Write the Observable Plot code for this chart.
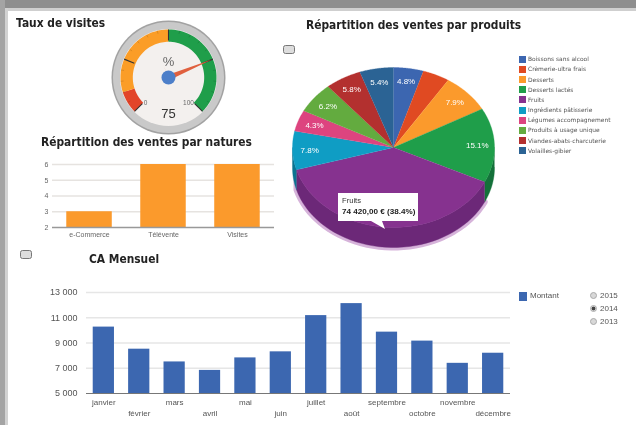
<!DOCTYPE html>
<html><head><meta charset="utf-8">
<script src="https://cdn.jsdelivr.net/npm/d3@7"></script>
<script src="https://cdn.jsdelivr.net/npm/@observablehq/plot@0.6"></script>
<style>
html,body{margin:0;padding:0;width:636px;height:425px;overflow:hidden;background:#fff}
#root{position:absolute;left:0;top:0;width:636px;height:425px;overflow:hidden;background:#fff;filter:blur(.6px)}
#root>*{position:absolute}
.title{font:bold 11.6px "DejaVu Sans",sans-serif;color:#222;white-space:nowrap;line-height:14px;transform:scaleX(.92);transform-origin:left center}
.leg{font:5.95px "DejaVu Sans",sans-serif;color:#555;white-space:nowrap;line-height:8px}
.sw{width:7px;height:7px}
.btn{width:10px;height:7px;border:1.5px solid #777;border-radius:2.5px;background:#ddd}
.radio{width:7px;height:7px;border-radius:50%;background:#d8d8d8;border:.5px solid #aaa;box-sizing:border-box}
.yr{font:8px "Liberation Sans",sans-serif;color:#555;line-height:10px}
svg{display:block;background:transparent!important}
</style></head><body><div id="root"></div>
<script>
// ---------- data ----------
const gaugeValue = 75;
const gaugeBands = [[0,10,"#e2452a"],[10,50,"#fb9d27"],[50,100,"#1f9e4a"]];
const gaugeMajor = [0,25,50,75,100];
const gaugeMinor = [5,10,15,20,30,35,40,45,55,60,65,70,80,85,90,95];

const natures = ["e-Commerce","Télévente","Visites"];
const natureValues = [3,6,6];

const products = ["Boissons sans alcool","Crèmerie-ultra frais","Desserts","Desserts lactés","Fruits","Ingrédients pâtisserie","Légumes accompagnement","Produits à usage unique","Viandes-abats-charcuterie","Volailles-gibier"];
const shares = [4.8,4.3,7.9,15.1,38.4,7.8,4.3,6.2,5.8,5.4];
const shareLabels = ["4.8%","","7.9%","15.1%","","7.8%","4.3%","6.2%","5.8%","5.4%"];
const productColors = ["#3c66b0","#e04a22","#fb9a2c","#1f9e4a","#86328f","#0f9dc4","#dd447f","#63ab3f","#b3302f","#2b6394"];
const productSides = ["#2b4a80","#a33518","#b86f1f","#14713a","#6c2878","#0b7390","#a1315c","#47802d","#822221","#1e476b"];

const months = ["janvier","février","mars","avril","mai","juin","juillet","août","septembre","octobre","novembre","décembre"];
const monthly = [10260,8510,7500,6830,7820,8300,11170,12120,9860,9150,7390,8190];
const yearOptions = ["2015","2014","2013"];

// ---------- layout helpers ----------
const root = document.getElementById("root");
function box(css, cls, text){
  const d = document.createElement("div");
  if (cls) d.className = cls;
  d.style.cssText = css;
  if (text) d.textContent = text;
  root.appendChild(d);
  return d;
}
function place(svg, left, top){ svg.style.left = left+"px"; svg.style.top = top+"px"; root.appendChild(svg); }
const rad = d => d*Math.PI/180;

// page frame
box("left:0;top:0;width:636px;height:8px;background:#8e8e8e");
box("left:0;top:8px;width:636px;height:3px;background:#cfcfcf");
box("left:0;top:0;width:5px;height:425px;background:#a4a4a4");
box("left:5px;top:8px;width:3px;height:417px;background:#d2d2d2");

// titles and toggles
box("left:16px;top:16px","title","Taux de visites");
box("left:41px;top:135px","title","Répartition des ventes par natures");
box("left:306px;top:18px","title","Répartition des ventes par produits");
box("left:89px;top:252px","title","CA Mensuel");
box("left:283px;top:45px","btn");
box("left:20px;top:250px","btn");

// ---------- gauge ----------
const ang = v => -135 + v*2.7;
const gx = (v,r) => r*Math.sin(rad(ang(v)));
const gy = (v,r) => r*Math.cos(rad(ang(v)));
const bandPts = gaugeBands.flatMap(([a,b,c],i)=>{
  const out = d3.range(0,41).map(k=>a+(b-a)*k/40);
  return [...out.map(v=>({x:gx(v,48),y:gy(v,48),c,i})), ...out.reverse().map(v=>({x:gx(v,35.7),y:gy(v,35.7),c,i}))];
});
const needle = [
  {x:gx(gaugeValue,47),y:gy(gaugeValue,47)},
  {x:gx(gaugeValue+33.3,2.8),y:gy(gaugeValue+33.3,2.8)},
  {x:gx(gaugeValue+100,14.5),y:gy(gaugeValue+100,14.5)},
  {x:gx(gaugeValue-33.3,2.8),y:gy(gaugeValue-33.3,2.8)}
];
place(Plot.plot({
  width:120,height:120,margin:0,
  x:{domain:[-60,60],axis:null},y:{domain:[-60,60],axis:null},
  style:{background:"transparent"},
  marks:[
    Plot.dot([0],{x:0,y:0,r:57,fill:"#a2a2a2"}),
    Plot.dot([0],{x:0,y:0,r:55.5,fill:"#c9c9c9"}),
    Plot.dot([0],{x:0,y:0,r:48.5,fill:"#f3f0ee"}),
    Plot.line(bandPts,{x:"x",y:"y",z:"i",fill:"c",stroke:"none"}),
    Plot.link(gaugeMinor,{x1:v=>gx(v,45),y1:v=>gy(v,45),x2:v=>gx(v,48),y2:v=>gy(v,48),stroke:"#000",strokeOpacity:.18,strokeWidth:.7}),
    Plot.link(gaugeMajor,{x1:v=>gx(v,37),y1:v=>gy(v,37),x2:v=>gx(v,48),y2:v=>gy(v,48),stroke:"#333",strokeWidth:1.1}),
    Plot.line(needle,{x:"x",y:"y",fill:"#e0603e",stroke:"none"}),
    Plot.dot([0],{x:0,y:0,r:7,fill:"#4c7fc9"}),
    Plot.text(["%"],{x:0,y:16,fontSize:13,fill:"#666",fontFamily:"Liberation Sans"}),
    Plot.text([gaugeValue],{x:0,y:-36,text:d=>d,fontSize:13,fill:"#333",fontFamily:"Liberation Sans"}),
    Plot.text(["0"],{x:-23,y:-25,fontSize:6.5,fill:"#666",fontFamily:"Liberation Sans"}),
    Plot.text(["100"],{x:20,y:-25,fontSize:6.5,fill:"#666",fontFamily:"Liberation Sans"})
  ]
}),108,17);

// ---------- natures bars ----------
const natTable = natures.map((n,i)=>({n,v:natureValues[i]}));
place(Plot.plot({
  width:290,height:90,marginLeft:52,marginRight:16,marginTop:9,marginBottom:18,
  style:{background:"transparent",fontFamily:"Liberation Sans",fontSize:"7px",color:"#666"},
  x:{domain:natures,paddingInner:.385,paddingOuter:.193,round:false,label:null},
  y:{domain:[2,6],label:null},
  marks:[
    Plot.ruleY([3,4,5,6],{stroke:"#e6e3e0",strokeWidth:1.3}),
    Plot.barY(natTable,{x:"n",y1:2,y2:"v",fill:"#fb9a2c"}),
    Plot.ruleY([2],{stroke:"#999",strokeWidth:1.5}),
    Plot.axisY({ticks:[2,3,4,5,6],tickSize:0,tickPadding:4,tickFormat:d3.format("d"),label:null}),
    Plot.axisX({tickSize:0,tickPadding:5,label:null})
  ]
}),0,155);

// ---------- pie ----------
const pieArcs = [];
{ let s = 0; shares.forEach((p,i)=>{ pieArcs.push({i,a0:s*3.6,a1:(s+p)*3.6}); s += p; }); }
const px = a => Math.sin(rad(a));
const py = a => Math.cos(rad(a));
const depth = 0.25;
const steps = (a,b,n=40) => d3.range(0,n+1).map(k=>a+(b-a)*k/n);
const topPts = pieArcs.flatMap(({i,a0,a1})=>[{x:0,y:0,i},...steps(a0,a1).map(a=>({x:px(a),y:py(a),i}))]);
const sidePts = pieArcs.filter(d=>d.a1>90&&d.a0<270).flatMap(({i,a0,a1})=>{
  const s = steps(Math.max(a0,90),Math.min(a1,270));
  return [...s.map(a=>({x:px(a),y:py(a),i})),...s.reverse().map(a=>({x:px(a),y:py(a)-depth,i}))];
});
const pieLabels = pieArcs.filter(d=>shareLabels[d.i]).map(d=>{
  const m=(d.a0+d.a1)/2; return {x:.83*px(m),y:.83*py(m),t:shareLabels[d.i]};
});
place(Plot.plot({
  width:220,height:200,margin:0,
  x:{domain:[-1.089,1.089],axis:null},y:{domain:[-1.4125,1.0875],axis:null},
  style:{background:"transparent"},
  marks:[
    Plot.line(sidePts.filter(d=>d.i===4),{x:"x",y:"y",z:"i",fill:"#d6b3da",stroke:"#d6b3da",strokeWidth:6}),
    Plot.line(sidePts,{x:"x",y:"y",z:"i",fill:d=>productSides[d.i],stroke:d=>productSides[d.i],strokeWidth:.4}),
    Plot.line(topPts,{x:"x",y:"y",z:"i",fill:d=>productColors[d.i],stroke:d=>productColors[d.i],strokeWidth:.3}),
    Plot.text(pieLabels,{x:"x",y:"y",text:"t",fill:"#fff",fontSize:8,fontFamily:"Liberation Sans"})
  ]
}),283,60);

// pie tooltip
box("left:338px;top:193px;width:80px;height:36px;background:#fff;clip-path:polygon(0 0,100% 0,100% 28px,44px 28px,47px 36px,33px 28px,0 28px)");
box("left:342px;top:196px;font:7.6px 'Liberation Sans',sans-serif;color:#333;line-height:10px","","Fruits");
box("left:342px;top:206.5px;font:bold 8.1px 'Liberation Sans',sans-serif;color:#222;line-height:10px;white-space:nowrap","","74 420,00 € (38.4%)");

// pie legend
products.forEach((p,i)=>{
  const y = 59.3 + i*10.15;
  box(`left:519px;top:${y-3.5}px;background:${productColors[i]}`,"sw");
  box(`left:528px;top:${y-4}px`,"leg",p);
});

// ---------- CA mensuel ----------
const caTable = months.map((m,i)=>({m,v:monthly[i]}));
const spaced = v => d3.format(",")(v).replace(",", " ");
place(Plot.plot({
  width:520,height:145,marginLeft:86,marginRight:10,marginTop:12,marginBottom:32,
  style:{background:"transparent",fontFamily:"Liberation Sans",fontSize:"8px",color:"#555"},
  x:{domain:months,paddingInner:.4,paddingOuter:.19,round:false,label:null},
  y:{domain:[5000,13000],label:null},
  marks:[
    Plot.ruleY([7000,9000,11000,13000],{stroke:"#e6e6e6",strokeWidth:1.5}),
    Plot.barY(caTable,{x:"m",y1:5000,y2:"v",fill:"#3c67b0"}),
    Plot.ruleY([5000],{stroke:"#777",strokeWidth:1.2}),
    Plot.axisY({ticks:[5000,7000,9000,11000,13000],tickSize:0,tickPadding:9,fontSize:9,tickFormat:spaced,label:null}),
    Plot.axisX(months.filter((d,i)=>i%2===0),{tickSize:0,tickPadding:6,label:null}),
    Plot.axisX(months.filter((d,i)=>i%2===1),{tickSize:0,tickPadding:17,label:null})
  ]
}),0,280);

box("left:519px;top:292px;width:8px;height:9px;background:#3c67b0");
box("left:530px;top:291px","yr","Montant");
yearOptions.forEach((y,i)=>{
  const t = 292 + i*12.8;
  box(`left:589.5px;top:${t}px;${y==="2014"?"background:radial-gradient(circle,#444 0 1.6px,#d8d8d8 2.2px)":""}`,"radio");
  box(`left:600px;top:${t-1}px`,"yr",y);
});
</script></body></html>
